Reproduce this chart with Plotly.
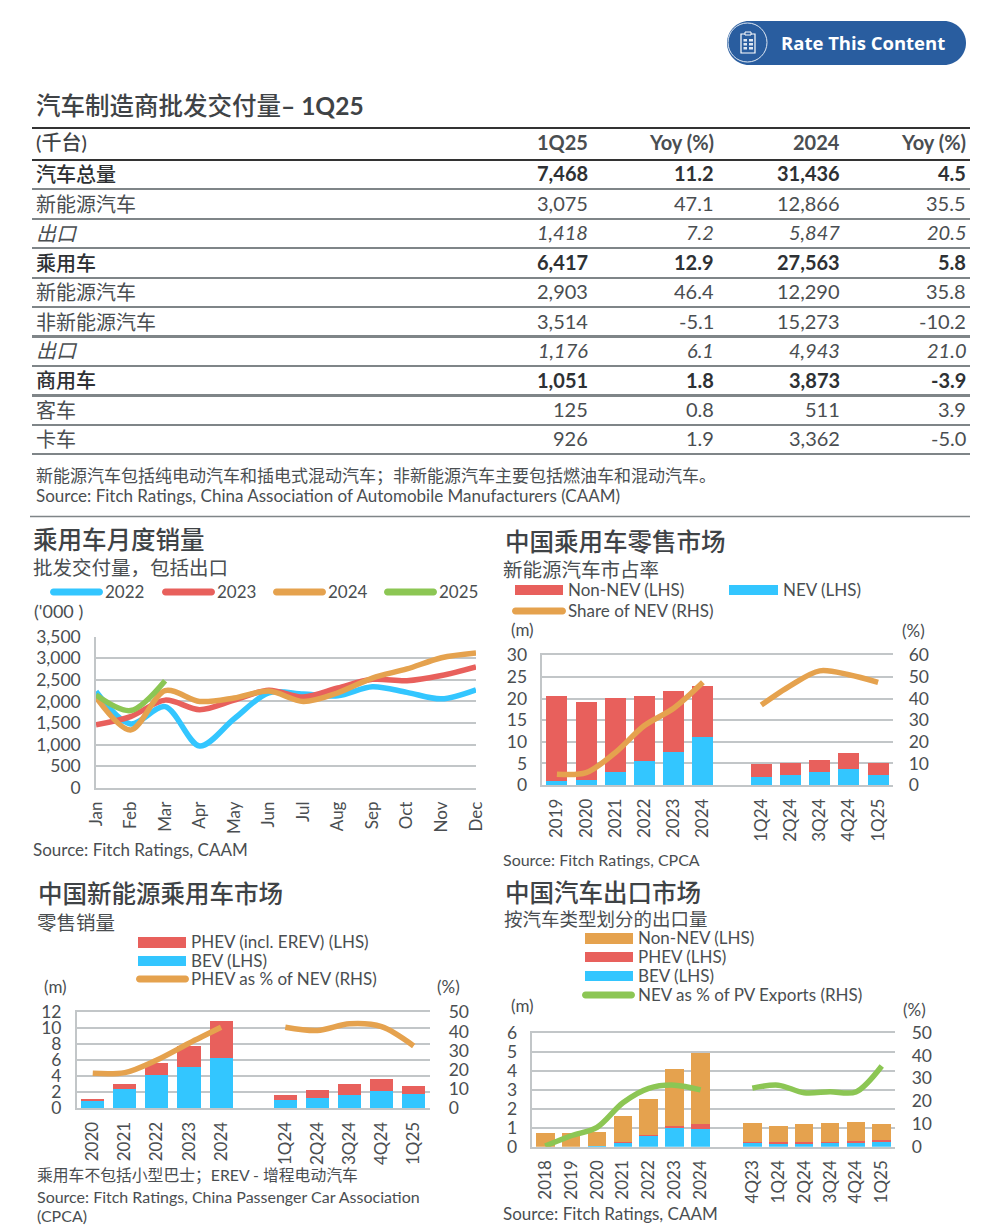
import plotly.graph_objects as go

# ---------- table data ----------
table_columns = ["(千台)", "1Q25", "Yoy (%)", "2024", "Yoy (%)"]
row_labels = ["汽车总量", "新能源汽车", "出口", "乘用车", "新能源汽车", "非新能源汽车", "出口", "商用车", "客车", "卡车"]
col_1q25 = ["7,468", "3,075", "1,418", "6,417", "2,903", "3,514", "1,176", "1,051", "125", "926"]
col_yoy1 = ["11.2", "47.1", "7.2", "12.9", "46.4", "-5.1", "6.1", "1.8", "0.8", "1.9"]
col_2024 = ["31,436", "12,866", "5,847", "27,563", "12,290", "15,273", "4,943", "3,873", "511", "3,362"]
col_yoy2 = ["4.5", "35.5", "20.5", "5.8", "35.8", "-10.2", "21.0", "-3.9", "3.9", "-5.0"]
row_styles = ["b", "n", "i", "b", "n", "n", "i", "b", "n", "n"]

# ---------- chart 1 ----------
months = ["Jan", "Feb", "Mar", "Apr", "May", "Jun", "Jul", "Aug", "Sep", "Oct", "Nov", "Dec"]
pv_2022 = [2230, 1480, 1880, 970, 1600, 2200, 2170, 2130, 2340, 2210, 2060, 2270]
pv_2023 = [1460, 1650, 2030, 1810, 2030, 2260, 2100, 2310, 2510, 2480, 2600, 2800]
pv_2024 = [2100, 1340, 2250, 2000, 2080, 2240, 2000, 2200, 2540, 2750, 3010, 3120]
pv_2025 = [2150, 1790, 2480]

# ---------- chart 2 ----------
retail_cats = ["2019", "2020", "2021", "2022", "2023", "2024", " ", "1Q24", "2Q24", "3Q24", "4Q24", "1Q25"]
retail_nev = [1.0, 1.1, 3.0, 5.6, 7.7, 11.0, None, 1.8, 2.4, 3.1, 3.8, 2.4]
retail_non = [19.7, 18.2, 17.2, 15.0, 14.0, 11.8, None, 3.0, 2.7, 2.6, 3.6, 2.7]
retail_share = [5.0, 5.7, 15.0, 27.5, 35.5, 47.5, None, 37.0, 46.0, 52.8, 51.0, 47.5]

# ---------- chart 3 ----------
nev_cats = ["2020", "2021", "2022", "2023", "2024", " ", "1Q24", "2Q24", "3Q24", "4Q24", "1Q25"]
nev_bev = [0.9, 2.4, 4.2, 5.1, 6.3, None, 1.0, 1.3, 1.6, 2.1, 1.8]
nev_phev = [0.2, 0.6, 1.5, 2.7, 4.6, None, 0.7, 1.0, 1.4, 1.6, 1.0]
nev_share = [18.2, 18.6, 25.2, 33.9, 42.2, None, 42.2, 40.5, 44.0, 42.5, 32.5]

# ---------- chart 4 ----------
exp_cats = ["2018", "2019", "2020", "2021", "2022", "2023", "2024", " ", "4Q23", "1Q24", "2Q24", "3Q24", "4Q24", "1Q25"]
exp_bev = [0.0, 0.0, 0.02, 0.22, 0.58, 1.0, 0.93, None, 0.25, 0.2, 0.2, 0.22, 0.22, 0.25]
exp_phev = [0.0, 0.0, 0.0, 0.03, 0.06, 0.1, 0.27, None, 0.02, 0.03, 0.05, 0.05, 0.07, 0.12]
exp_non = [0.72, 0.74, 0.76, 1.37, 1.88, 3.0, 3.73, None, 0.98, 0.87, 0.97, 1.0, 0.99, 0.81]
exp_share = [0.3, 4.8, 8.5, 19.3, 25.6, 27.0, 24.9, None, 25.7, 27.0, 23.7, 24.1, 24.0, 35.4]

# ---------- style ----------
W, H = 996, 1228
CYAN, RED, ORANGE, GREEN = "#33c6ff", "#e8605c", "#e5a24e", "#8cc654"
GRID = "#c2c6c8"
INK = "#3f4346"
SOFT = "#4a4e51"
FONT = "Lato, 'Noto Sans CJK SC', sans-serif"
LEG = 17

px = lambda v: v / W
py = lambda v: 1 - v / H

annotations, shapes = [], []


def text(x, y, s, size=18, color=INK, weight="normal", style="normal", anchor="left", family=FONT):
    dx = -2.5 if anchor == "left" else 1.5
    annotations.append(dict(
        x=px(x + dx), y=py(y - 1), xref="paper", yref="paper", text=s, showarrow=False,
        xanchor=anchor, yanchor="middle", align=anchor,
        font=dict(size=size, color=color, weight=weight, style=style, family=family),
    ))


def hline(y, x0, x1, color, width):
    shapes.append(dict(type="line", xref="paper", yref="paper", x0=px(x0), x1=px(x1),
                       y0=py(y), y1=py(y), line=dict(color=color, width=width)))


def rect(x0, y0, x1, y1, fill, line_color=None, line_width=0):
    shapes.append(dict(type="rect", xref="paper", yref="paper", x0=px(x0), x1=px(x1), y0=py(y0), y1=py(y1),
                       fillcolor=fill, line=dict(width=line_width, color=line_color or fill)))


def pill(x0, x1, yc, h, fill, line_color=None, line_width=0):
    r = h / 2
    k = r * 0.55
    p = (f"M {px(x0 + r)},{py(yc - r)} L {px(x1 - r)},{py(yc - r)} "
         f"C {px(x1 - r + k)},{py(yc - r)} {px(x1)},{py(yc - k)} {px(x1)},{py(yc)} "
         f"C {px(x1)},{py(yc + k)} {px(x1 - r + k)},{py(yc + r)} {px(x1 - r)},{py(yc + r)} "
         f"L {px(x0 + r)},{py(yc + r)} "
         f"C {px(x0 + r - k)},{py(yc + r)} {px(x0)},{py(yc + k)} {px(x0)},{py(yc)} "
         f"C {px(x0)},{py(yc - k)} {px(x0 + r - k)},{py(yc - r)} {px(x0 + r)},{py(yc - r)} Z")
    shapes.append(dict(type="path", xref="paper", yref="paper", path=p, fillcolor=fill,
                       line=dict(width=line_width, color=line_color or fill)))


# ---------- button ----------
pill(727, 966, 43, 44, "#295d9f")
shapes.append(dict(type="circle", xref="paper", yref="paper", x0=px(728), x1=px(767), y0=py(23), y1=py(62),
                   fillcolor="rgba(0,0,0,0)", line=dict(color="#dfe8f3", width=1)))
rect(741, 34, 755, 53, "rgba(0,0,0,0)", "#ffffff", 1.2)
rect(745, 32, 751, 35, "#295d9f", "#ffffff", 1)
for yy in (39, 43, 47):
    rect(743.5, yy, 747, yy + 2.5, "#dfe8f3")
    rect(749, yy, 753, yy + 2.5, "#dfe8f3")
text(781, 43, "Rate This Content", 18.5, "#ffffff", "bold", family="'Open Sans', sans-serif")

# ---------- table ----------
text(36, 106, "汽车制造商批发交付量<b>– 1Q25</b>", 24.5, INK, 500)
rule_y = [189, 219, 248, 278, 307, 336.5, 366, 395.5, 425, 454]
rule_w = [2, 2, 2, 2, 2, 3, 2, 3, 2, 2]
hline(128, 32, 970, "#333333", 2)
hline(160, 32, 970, "#333333", 2)
for ry, rw in zip(rule_y, rule_w):
    hline(ry, 32, 970, "#7f8588", rw)
hline(516.5, 30, 970, "#7f8588", 1.6)

col_x = [588, 714, 840, 966]
text(36, 143, table_columns[0], 20, INK, 500)
for cx, h in zip(col_x, table_columns[1:]):
    text(cx, 143, h, 20, SOFT, "bold", anchor="right")
row_y = [174, 204, 233, 263, 292, 322, 351, 381, 410, 439]
for i, ry in enumerate(row_y):
    st = row_styles[i]
    wt = "bold" if st == "b" else "normal"
    it = "italic" if st == "i" else "normal"
    col = "#2e3134" if st == "b" else SOFT
    text(36, ry + 0.5, row_labels[i], 20, col, 500 if st == "b" else "normal", it)
    for cx, column in zip(col_x, (col_1q25, col_yoy1, col_2024, col_yoy2)):
        text(cx, ry, column[i], 20, col, wt, it, anchor="right")

text(36, 476, "新能源汽车包括纯电动汽车和插电式混动汽车；非新能源汽车主要包括燃油车和混动汽车。", 17, SOFT)
text(36, 497, "Source: Fitch Ratings, China Association of Automobile Manufacturers (CAAM)", 17, SOFT)

# ---------- chart headers ----------
text(33, 540, "乘用车月度销量", 24.5, INK, 500)
text(33, 568, "批发交付量，包括出口", 19.5, SOFT)
for x0, label, c in zip((50, 162, 273, 384), ("2022", "2023", "2024", "2025"), (CYAN, RED, ORANGE, GREEN)):
    pill(x0, x0 + 53, 592, 7, c)
    text(x0 + 55, 592, label, LEG, SOFT)
text(34, 612, "('000 )", 18, SOFT)
text(33, 850, "Source: Fitch Ratings, CAAM", 17, SOFT)

text(505, 542, "中国乘用车零售市场", 24.5, INK, 500)
text(503, 570, "新能源汽车市占率", 19.5, SOFT)
rect(515, 585, 563, 595, RED)
text(568, 590, "Non-NEV (LHS)", LEG, SOFT)
rect(729, 585, 778, 595, CYAN)
text(783, 590, "NEV (LHS)", LEG, SOFT)
pill(512, 566, 611, 7, ORANGE)
text(568, 611, "Share of NEV (RHS)", LEG, SOFT)
text(511, 630, "(m)", LEG, SOFT)
text(902, 631, "(%)", LEG, SOFT)
text(503, 860, "Source: Fitch Ratings, CPCA", 16, SOFT)

text(38, 894, "中国新能源乘用车市场", 24.5, INK, 500)
text(37, 923, "零售销量", 19.5, SOFT)
rect(138, 937, 186, 948, RED)
text(191, 942, "PHEV (incl. EREV) (LHS)", LEG, SOFT)
rect(138, 956, 186, 966, CYAN)
text(191, 961, "BEV (LHS)", LEG, SOFT)
pill(136, 189, 979, 7, ORANGE)
text(191, 979, "PHEV as % of NEV (RHS)", LEG, SOFT)
text(44, 987, "(m)", LEG, SOFT)
text(437, 987, "(%)", LEG, SOFT)
text(37, 1176, "乘用车不包括小型巴士；EREV - 增程电动汽车", 15.8, SOFT)
text(37, 1197, "Source: Fitch Ratings, China Passenger Car Association", 16, SOFT)
text(37, 1216, "(CPCA)", 16, SOFT)

text(505, 893, "中国汽车出口市场", 24.5, INK, 500)
text(504, 920, "按汽车类型划分的出口量", 18.5, SOFT)
rect(585, 933, 633, 944, ORANGE)
text(638, 938, "Non-NEV (LHS)", LEG, SOFT)
rect(585, 952, 633, 962, RED)
text(638, 957, "PHEV (LHS)", LEG, SOFT)
rect(585, 971, 633, 981, CYAN)
text(638, 976, "BEV (LHS)", LEG, SOFT)
pill(582, 635, 995, 7, GREEN)
text(638, 995, "NEV as % of PV Exports (RHS)", LEG, SOFT)
text(511, 1006, "(m)", LEG, SOFT)
text(903, 1010, "(%)", LEG, SOFT)
text(503, 1214, "Source: Fitch Ratings, CAAM", 17, SOFT)


# ---------- axes helpers ----------
def xaxis(x0, x1, y_name, cats, rng, mirror):
    return dict(
        type="category", domain=[px(x0), px(x1)], anchor=y_name, categoryorder="array", categoryarray=cats,
        range=rng, tickmode="array", tickvals=[c for c in cats if c.strip()], tickangle=-90,
        tickfont=dict(size=17, color=SOFT), showgrid=False, showline=True, linecolor=GRID, linewidth=1.5,
        mirror=mirror, ticks="", ticklabelstandoff=5, zeroline=False, automargin=False,
    )


def yaxis(y_top, y_bot, x_name, rng, dtick, fmt=""):
    return dict(
        domain=[py(y_bot), py(y_top)], anchor=x_name, range=rng, dtick=dtick, tick0=0, tickformat=fmt,
        tickfont=dict(size=17.5, color=SOFT), showgrid=True, gridcolor=GRID, gridwidth=1.5,
        showline=True, linecolor=GRID, linewidth=1.5, ticks="", ticklabelstandoff=10, zeroline=False,
        automargin=False,
    )


def yaxis_r(y_top, y_bot, x_name, over, rng, dtick, standoff=14):
    return dict(
        domain=[py(y_bot), py(y_top)], anchor=x_name, overlaying=over, side="right", range=rng, dtick=dtick, tick0=0,
        tickfont=dict(size=17.5, color=SOFT), showgrid=False, showline=False, ticks="",
        ticklabelstandoff=standoff, zeroline=False, automargin=False,
    )


fig = go.Figure()

LW = 5.5


def line_trace(cats, vals, c, xa, ya):
    return go.Scatter(x=cats, y=vals, mode="lines", xaxis=xa, yaxis=ya, connectgaps=False,
                      line=dict(color=c, width=LW, shape="spline", smoothing=0.9), showlegend=False)


def bar_trace(cats, vals, c, xa, ya):
    return go.Bar(x=cats, y=vals, marker=dict(color=c, line=dict(width=0)), xaxis=xa, yaxis=ya, showlegend=False)


# chart 1
for vals, c in ((pv_2022, CYAN), (pv_2023, RED), (pv_2024, ORANGE), (pv_2025, GREEN)):
    fig.add_trace(line_trace(months[:len(vals)], vals, c, "x", "y"))
# chart 2
fig.add_trace(bar_trace(retail_cats, retail_nev, CYAN, "x2", "y2"))
fig.add_trace(bar_trace(retail_cats, retail_non, RED, "x2", "y2"))
fig.add_trace(line_trace(retail_cats, retail_share, ORANGE, "x2", "y5"))
# chart 3
fig.add_trace(bar_trace(nev_cats, nev_bev, CYAN, "x3", "y3"))
fig.add_trace(bar_trace(nev_cats, nev_phev, RED, "x3", "y3"))
fig.add_trace(line_trace(nev_cats, nev_share, ORANGE, "x3", "y6"))
# chart 4
fig.add_trace(bar_trace(exp_cats, exp_bev, CYAN, "x4", "y4"))
fig.add_trace(bar_trace(exp_cats, exp_phev, RED, "x4", "y4"))
fig.add_trace(bar_trace(exp_cats, exp_non, ORANGE, "x4", "y4"))
fig.add_trace(line_trace(exp_cats, exp_share, GREEN, "x4", "y7"))

fig.update_layout(
    width=W, height=H, margin=dict(l=0, r=0, t=0, b=0), paper_bgcolor="white", plot_bgcolor="white",
    barmode="stack", bargap=0.28, showlegend=False, font=dict(family=FONT, color=INK),
    annotations=annotations, shapes=shapes,
    xaxis=xaxis(96, 476, "y", months, [0, 11], False),
    yaxis=yaxis(636.5, 788, "x", [0, 3500], 500, ",d"),
    xaxis2=xaxis(542.3, 892.7, "y2", retail_cats, [-0.5, 11.5], True),
    yaxis2=yaxis(655.3, 785, "x2", [0, 30], 5),
    yaxis5=yaxis_r(655.3, 785, "x2", "y2", [0, 60], 10, 15),
    xaxis3=xaxis(76.7, 429.7, "y3", nev_cats, [-0.5, 10.5], True),
    yaxis3=yaxis(1012.3, 1108.3, "x3", [0, 12], 2),
    yaxis6=yaxis_r(1012.3, 1108.3, "x3", "y3", [0, 50], 10, 18),
    xaxis4=xaxis(532.3, 894.7, "y4", exp_cats, [-0.5, 13.5], True),
    yaxis4=yaxis(1032.7, 1146.7, "x4", [0, 6], 1),
    yaxis7=yaxis_r(1032.7, 1146.7, "x4", "y4", [0, 50], 10, 16),
)

fig.write_html("out.html", config=dict(displayModeBar=False),
               post_script="document.body.style.margin='0';document.body.style.overflow='hidden';")
